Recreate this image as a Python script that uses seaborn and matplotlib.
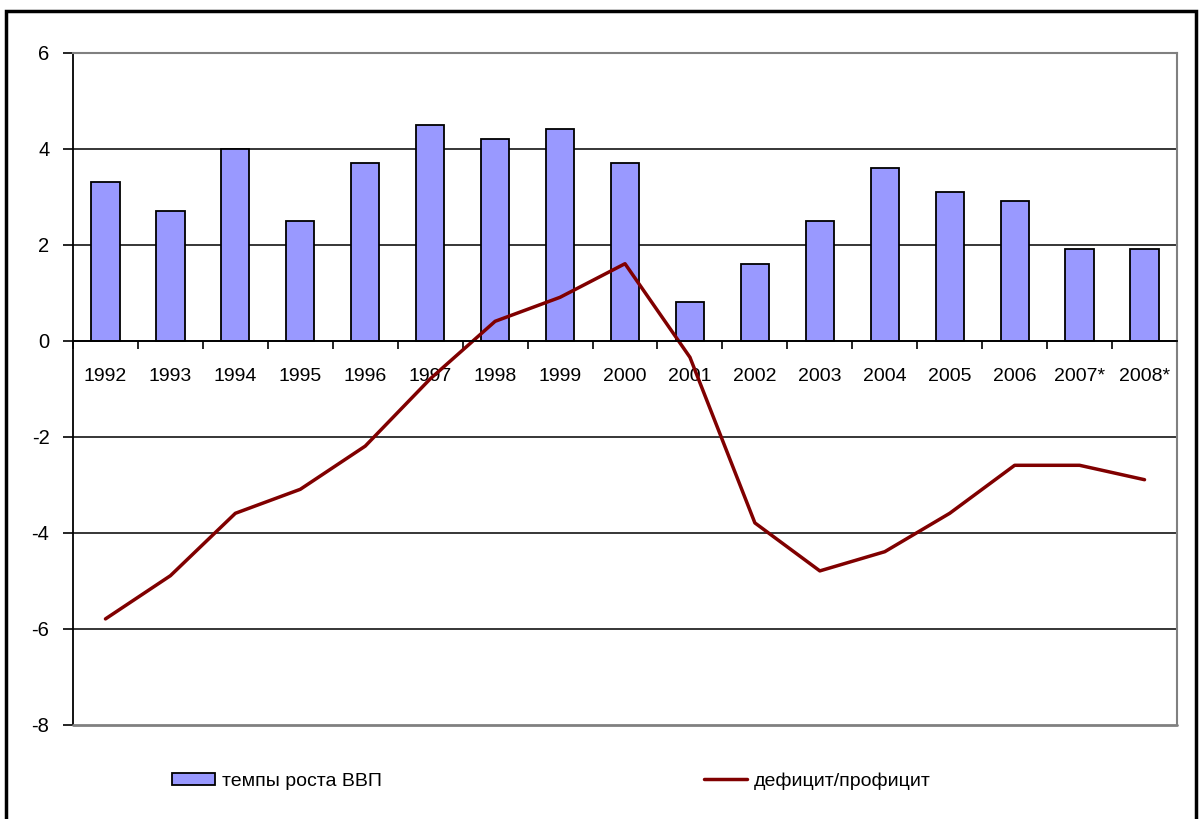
import numpy as np
import pandas as pd
import seaborn as sns
import matplotlib.pyplot as plt
import matplotlib.patches as mpatches
from matplotlib.lines import Line2D

years = ['1992', '1993', '1994', '1995', '1996', '1997', '1998', '1999', '2000',
         '2001', '2002', '2003', '2004', '2005', '2006', '2007*', '2008*']
gdp_growth = [3.3, 2.7, 4.0, 2.5, 3.7, 4.5, 4.2, 4.4, 3.7,
              0.8, 1.6, 2.5, 3.6, 3.1, 2.9, 1.9, 1.9]
balance = [-5.8, -4.9, -3.6, -3.1, -2.2, -0.8, 0.4, 0.9, 1.6,
           -0.35, -3.8, -4.8, -4.4, -3.6, -2.6, -2.6, -2.9]
y_ticks = [-8, -6, -4, -2, 0, 2, 4, 6]

bar_label = 'темпы роста ВВП'
line_label = 'дефицит/профицит'

sns.set_theme(style='white')
plt.rcParams['font.family'] = ['Liberation Sans', 'DejaVu Sans']

df = pd.DataFrame({'year': years, 'gdp': gdp_growth, 'balance': balance})
df['pos'] = np.arange(len(df))

fig = plt.figure(figsize=(12, 8.19), dpi=100)
ax = fig.add_axes([73 / 1200, 1 - 724.5 / 819, 1104 / 1200, 672 / 819])

sns.barplot(data=df, x='year', y='gdp', order=years, color='#9999FF',
            saturation=1, width=0.435, edgecolor='black', linewidth=1.3,
            ax=ax, zorder=2)
sns.lineplot(data=df, x='pos', y='balance', color='#800000', linewidth=2.5,
             ax=ax, zorder=3)

ax.set_xlim(-0.5, len(years) - 0.5)
ax.set_ylim(-8, 6)
ax.set_yticks(y_ticks)
ax.set_yticklabels([str(v) for v in y_ticks])
ax.set_xlabel('')
ax.set_ylabel('')

# category labels under the zero line, ticks between categories
ax.set_xticks(np.arange(len(years)))
ax.set_xticklabels(years)
ax.set_xticks(np.arange(len(years) + 1) - 0.5, minor=True)
ax.tick_params(axis='x', which='major', length=0, pad=20, labelsize=14,
               labelcolor='black')
ax.tick_params(axis='x', which='minor', length=6, width=1.2, color='black',
               direction='out', bottom=True)
ax.tick_params(axis='y', length=7, width=1.2, color='black', direction='out',
               left=True, pad=10, labelsize=14.5, labelcolor='black')

ax.yaxis.grid(True, color='black', linewidth=1.1, zorder=0)
ax.set_axisbelow(True)
gl = ax.get_ygridlines()
gl[0].set_visible(False)
gl[-1].set_visible(False)

ax.spines['bottom'].set_position(('data', 0))
ax.spines['bottom'].set_color('black')
ax.spines['bottom'].set_linewidth(1.3)
ax.spines['bottom'].set_zorder(4)
ax.spines['left'].set_color('black')
ax.spines['left'].set_linewidth(1.3)
for s in ['top', 'right']:
    ax.spines[s].set_color('#808080')
    ax.spines[s].set_linewidth(1.5)
    ax.spines[s].set_visible(True)
ax.plot([0, 1], [0, 0], transform=ax.transAxes, color='#808080',
        linewidth=2, clip_on=False, zorder=5)

# legend along the bottom
handles = [mpatches.Patch(facecolor='#9999FF', edgecolor='black', linewidth=1.3),
           Line2D([0], [0], color='#800000', linewidth=2.5)]
fig.legend(handles, [bar_label, line_label], loc='center left',
           bbox_to_anchor=(172 / 1200, 1 - 781 / 819), ncol=2, frameon=False,
           fontsize=14, labelcolor='black', handlelength=2.2, handleheight=0.6,
           handletextpad=0.35, columnspacing=16.6, borderpad=0, borderaxespad=0)

# outer chart frame
fig.patches.append(mpatches.Rectangle((6 / 1200, -0.05), 1190 / 1200, 1.05 - 11 / 819,
                                      transform=fig.transFigure, fill=False,
                                      edgecolor='black', linewidth=2.5))

fig.savefig('out.png', dpi=100)
